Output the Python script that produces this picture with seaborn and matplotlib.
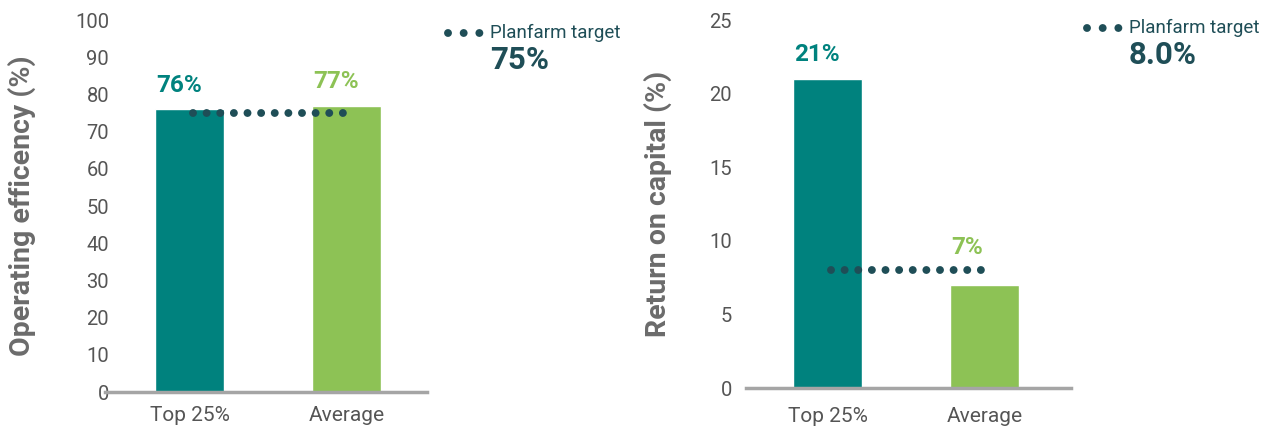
import matplotlib
matplotlib.use("Agg")
import matplotlib.pyplot as plt
from matplotlib.lines import Line2D
import seaborn as sns
import pandas as pd

# Farm benchmark data
categories = ["Top 25%", "Average"]
efficiency = [76, 77]          # operating efficiency (%)
roc = [21, 7]                  # return on capital (%)
efficiency_target = 75
roc_target = 8.0
efficiency_ticks = [0, 10, 20, 30, 40, 50, 60, 70, 80, 90, 100]
roc_ticks = [0, 5, 10, 15, 20, 25]

TEAL = "#00827E"
GREEN = "#8DC255"
DARK = "#1F4E57"
TICK_GREY = "#555555"
LABEL_GREY = "#6b6b6b"
SPINE_GREY = "#a5a5a5"

sns.set_theme(style="white")
plt.rcParams["font.family"] = ["Roboto", "DejaVu Sans"]

W, H = 1274, 430
fig = plt.figure(figsize=(W / 100, H / 100), dpi=100)

BAR_WIDTH = 0.44
DOT_LW = 5.7
LINE_DOTS = (0, (0.001, 1.72))
KEY_DOTS = (0, (0.001, 1.98))


def panel(rect, values, target, ticks, ylabel, target_fmt, legend_xy, ypad, xpad):
    ax = fig.add_axes(rect)
    df = pd.DataFrame({"cat": categories, "val": values})
    sns.barplot(data=df, x="cat", y="val", hue="cat", palette=[TEAL, GREEN],
                width=BAR_WIDTH, legend=False, ax=ax, saturation=1)
    ax.set_ylim(ticks[0], ticks[-1])
    ax.set_yticks(ticks)
    ax.set_xlabel("")
    ax.set_ylabel(ylabel, fontsize=20.5, fontweight="bold", color=LABEL_GREY)
    ax.tick_params(axis="both", length=0, colors=TICK_GREY)
    ax.tick_params(axis="x", pad=xpad, labelsize=15)
    ax.tick_params(axis="y", pad=ypad, labelsize=14.5)
    for s in ["top", "right", "left"]:
        ax.spines[s].set_visible(False)
    ax.spines["bottom"].set_color(SPINE_GREY)
    ax.spines["bottom"].set_linewidth(2.5)

    # target line as a row of dots between the bar centres
    ax.plot([0.02, 1], [target, target], color=DARK, linewidth=DOT_LW,
            linestyle=LINE_DOTS, dash_capstyle="round", zorder=5)

    # value labels, flush with each bar's left edge, kept clear of the target dots
    for i, v in enumerate(values):
        above_target = target > v
        ax.annotate(f"{v}%", xy=(i - BAR_WIDTH / 2, max(v, target)),
                    xytext=(1, 8 if above_target else 9),
                    textcoords="offset points", ha="left", va="bottom",
                    fontsize=17.5, fontweight="bold", color=[TEAL, GREEN][i])

    # target key
    lx, ly = legend_xy
    fig.add_artist(Line2D([(lx - 42) / W, (lx - 10.5) / W], [1 - ly / H] * 2,
                          color=DARK, linewidth=DOT_LW, linestyle=KEY_DOTS,
                          dash_capstyle="round", transform=fig.transFigure))
    fig.text(lx / W, 1 - ly / H, "Planfarm target", fontsize=13.5, color=DARK,
             ha="left", va="center")
    fig.text(lx / W, 1 - (ly + 27) / H, target_fmt.format(target), fontsize=22.5,
             fontweight="bold", color=DARK, ha="left", va="center")
    return ax


ax1 = panel([105 / W, 38 / H, 322 / W, 372 / H], efficiency, efficiency_target,
            efficiency_ticks, "Operating efficency (%)", "{:.0f}%", (490, 33), -3, 10)
ax1.set_xlim(-0.538, 1.513)
ax1.yaxis.set_label_coords((36 - 105) / 322, 0.5)

ax2 = panel([746 / W, 42 / H, 325 / W, 368 / H], roc, roc_target,
            roc_ticks, "Return on capital (%)", "{:.1f}%", (1129, 28), 10, 14)
ax2.set_xlim(-0.519, 1.551)
ax2.yaxis.set_label_coords((672 - 746) / 325, 0.5)

fig.savefig("out.png", dpi=100, facecolor="white")
